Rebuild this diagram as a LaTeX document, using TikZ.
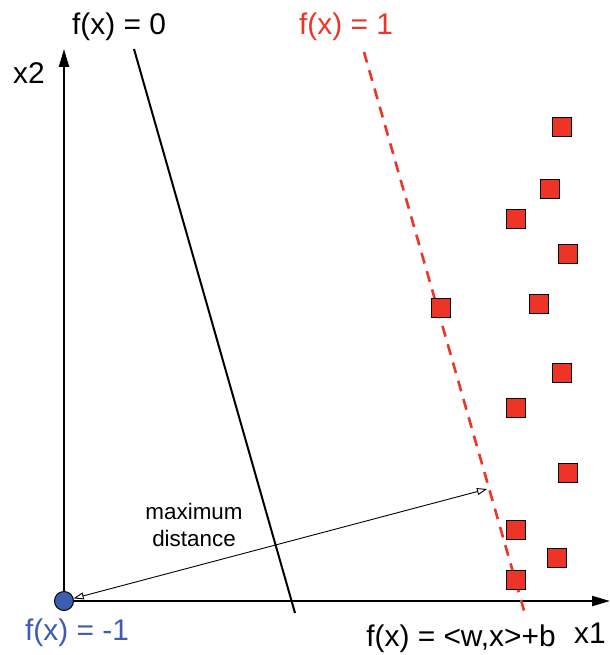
\documentclass[tikz,border=0pt]{standalone}
\usepackage{fontspec}
\setmainfont{Liberation Sans}
\usetikzlibrary{arrows.meta}
\definecolor{clPos}{HTML}{EE3427}
\definecolor{clNeg}{HTML}{3D5DAE}
\tikzset{
  axis/.style={line width=2.2bp, -{Triangle[length=18bp,width=10bp]}},
  plane/.style={line width=2bp},
  margin/.style={line width=2.6bp, draw=clPos, dash pattern=on 11bp off 8bp},
  possample/.style={rectangle, draw=black, fill=clPos, line width=1.2bp,
                    minimum size=18.5bp, inner sep=0pt},
  negsample/.style={circle, draw=black, fill=clNeg, line width=1bp,
                    minimum size=19bp, inner sep=0pt},
  bigtext/.style={font=\fontsize{30}{35}\selectfont, inner sep=0pt},
  smalltext/.style={font=\fontsize{22.5}{27}\selectfont, align=center, inner sep=0pt},
  span/.style={line width=0.9bp,
               {Triangle[open,length=10bp,width=7bp]}-{Triangle[open,length=10bp,width=7bp]}},
}

\begin{document}
\begin{tikzpicture}[x=1bp, y=-1bp]
  \useasboundingbox (0,0) rectangle (610,655);
  % axes
  \coordinate (orig) at (64,601);
  \coordinate (xend) at (610,601);
  \coordinate (yend) at (64,49);
  \draw[axis] (orig) -- (xend);
  \draw[axis] (orig) -- (yend);
  \node[bigtext] (xonelbl) at (590,633) {x1};
  \node[bigtext] (xtwolbl) at (29,73) {x2};
  % hyperplanes
  \coordinate (zerotop) at (134,49);
  \coordinate (zerobot) at (295,613);
  \coordinate (onetop) at (364,52);
  \coordinate (onebot) at (525,614);
  \draw[plane] (zerotop) -- (zerobot);
  \draw[margin] (onetop) -- (onebot);
  \node[bigtext] (zerolbl) at (119,27) {f(x) = 0};
  \node[bigtext, text=clPos] (onelbl) at (346,27) {f(x) = 1};
  \node[bigtext] (fnlbl) at (461,639) {f(x) = <w,x>+b};
  % samples
  \node[negsample] (neg) at (orig) {};
  \node[bigtext, text=clNeg] (neglbl) at (77,633) {f(x) = -1};
  \foreach \x/\y [count=\i] in {562/127, 550/189, 516/219, 568/254, 441/308, 539/304,
                                562/373, 516/408, 568/473, 516/530, 557/558, 516/580}
    \node[possample] (sq\i) at (\x,\y) {};
  % distance
  \coordinate (far) at (487,489);
  \draw[span] (neg) -- (far);
  \node[smalltext] (distlbl) at (194,525) {maximum\\distance};
\end{tikzpicture}
\end{document}
